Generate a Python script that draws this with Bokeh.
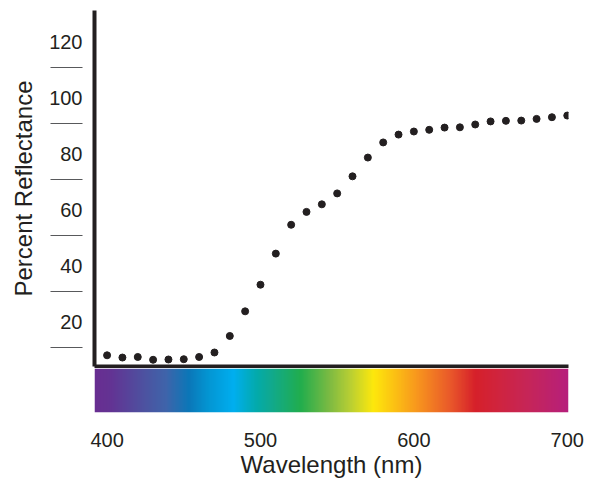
import numpy as np
from bokeh.plotting import figure
from bokeh.layouts import column
from bokeh.models import Range1d, FixedTicker
from bokeh.embed import file_html
from bokeh.resources import INLINE

# ---- data ----
wavelength = [400, 410, 420, 430, 440, 450, 460, 470, 480, 490, 500,
              510, 520, 530, 540, 550, 560, 570, 580, 590, 600,
              610, 620, 630, 640, 650, 660, 670, 680, 690, 700]
reflectance = [8.2, 7.4, 7.6, 6.6, 6.7, 6.8, 7.6, 9.2, 15.1, 23.9, 33.4,
               44.5, 54.8, 59.4, 62.1, 66.0, 72.1, 78.8, 84.2, 87.0, 88.1,
               88.7, 89.5, 89.6, 90.6, 91.7, 91.9, 92.0, 92.6, 93.2, 93.8]

y_label_values = [20, 40, 60, 80, 100, 120]
y_guide_values = [11, 31, 51, 71, 91, 111]
x_label_values = [400, 500, 600, 700]

spectrum_nm = [391.8, 402.2, 421.8, 438.1, 453.1, 466.0, 482.4, 497.4, 506.5,
               526.1, 545.6, 558.7, 573.7, 586.7, 603.0, 623.9, 640.2, 656.5,
               676.0, 700.8]
spectrum_colors = ["#682e91", "#633393", "#4f4f9f", "#3f64aa", "#0b77b8", "#0396d3",
                   "#00aeef", "#03aaab", "#10a98f", "#21ad4d", "#7fbb42", "#b9cf33",
                   "#fde80c", "#fcc313", "#f7941e", "#e9582a", "#d6202a", "#cf2440",
                   "#c5255a", "#b61f7c"]

INK = "#231f20"
FONT = "Liberation Sans"

x_range = Range1d(391.8, 700.8)

# ---- top: reflectance dots ----
p = figure(width=592, height=368, x_range=x_range, y_range=Range1d(4.2, 131.3),
           output_backend="svg", toolbar_location=None,
           min_border_left=94, min_border_right=24, min_border_top=10, min_border_bottom=2)
p.grid.visible = False
p.outline_line_color = None
p.background_fill_color = "white"
p.border_fill_color = "white"
p.scatter(wavelength, reflectance, size=7, color=INK)

yax = p.yaxis[0]
yax.ticker = FixedTicker(ticks=y_label_values, minor_ticks=y_guide_values)
yax.axis_line_width = 4
yax.axis_line_color = INK
yax.major_tick_out = 0
yax.major_tick_in = 0
yax.minor_tick_in = -12
yax.minor_tick_out = 44
yax.minor_tick_line_color = "#58595b"
yax.minor_tick_line_width = 1.2
yax.major_label_standoff = -32
yax.major_label_text_font = FONT
yax.major_label_text_font_size = "20px"
yax.major_label_text_color = INK
yax.axis_label = "Percent Reflectance"
yax.axis_label_text_font = FONT
yax.axis_label_text_font_size = "24px"
yax.axis_label_text_font_style = "normal"
yax.axis_label_text_color = INK
yax.axis_label_standoff = 9

xax = p.xaxis[0]
xax.ticker = FixedTicker(ticks=[])
xax.axis_line_width = 4
xax.axis_line_color = INK
xax.major_tick_out = 0
xax.major_tick_in = 0
xax.minor_tick_out = 0
xax.minor_tick_in = 0
xax.major_label_text_color = None

# ---- bottom: spectrum bar ----
s = figure(width=592, height=114, x_range=x_range, y_range=Range1d(0, 1),
           output_backend="svg", toolbar_location=None, y_axis_location=None,
           min_border_left=94, min_border_right=24, min_border_top=0, min_border_bottom=70)
s.grid.visible = False
s.outline_line_color = None
s.background_fill_color = "white"
s.border_fill_color = "white"

n = 600
xs = np.linspace(x_range.start, x_range.end, n)
rgb = np.array([[int(c[i:i + 2], 16) for i in (1, 3, 5)] for c in spectrum_colors], dtype=float)
img = np.empty((1, n), dtype=np.uint32)
view = img.view(dtype=np.uint8).reshape((1, n, 4))
for k in range(3):
    view[0, :, k] = np.round(np.interp(xs, spectrum_nm, rgb[:, k])).astype(np.uint8)
view[0, :, 3] = 255
s.image_rgba(image=[img], x=x_range.start, y=0, dw=x_range.end - x_range.start, dh=1)

sax = s.xaxis[0]
sax.ticker = FixedTicker(ticks=x_label_values)
sax.axis_line_color = None
sax.major_tick_out = 0
sax.major_tick_in = 0
sax.minor_tick_out = 0
sax.minor_tick_in = 0
sax.major_label_standoff = 20
sax.major_label_text_font = FONT
sax.major_label_text_font_size = "20px"
sax.major_label_text_color = INK
sax.axis_label = "Wavelength (nm)"
sax.axis_label_text_font = FONT
sax.axis_label_text_font_size = "24px"
sax.axis_label_text_font_style = "normal"
sax.axis_label_text_color = INK
sax.axis_label_standoff = 1

layout = column(p, s, spacing=0)
open("out.html", "w").write(file_html(layout, INLINE))
